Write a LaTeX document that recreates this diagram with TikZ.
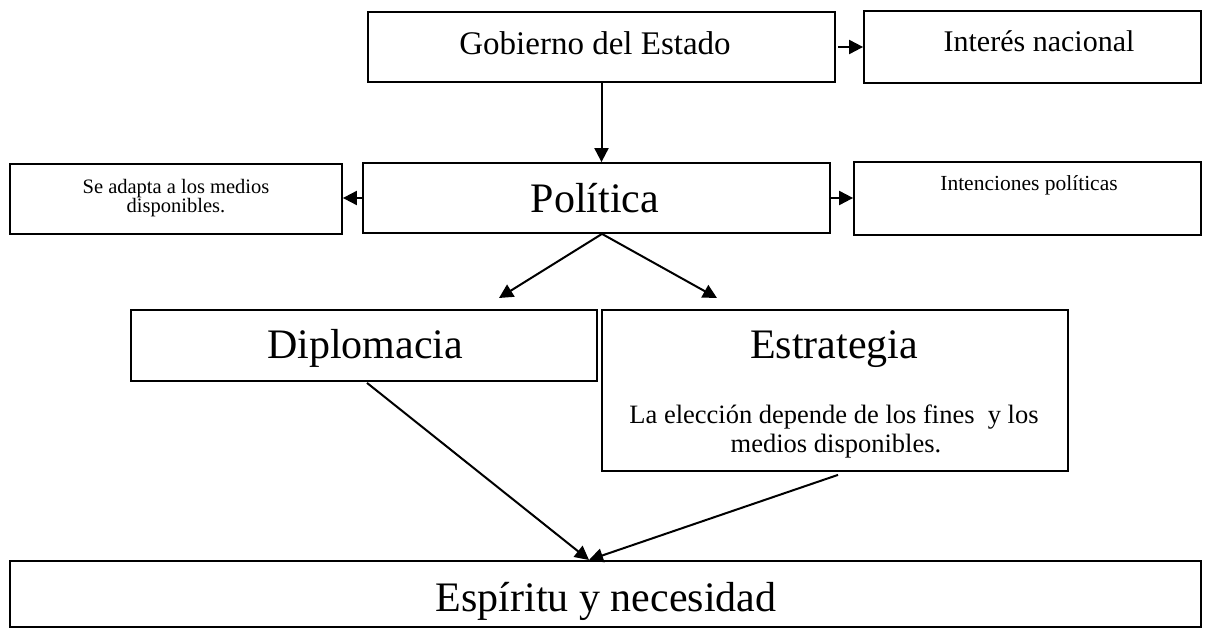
\documentclass[tikz,border=0pt]{standalone}
\usepackage{fontspec}
\setmainfont{Liberation Serif}
\usetikzlibrary{arrows.meta,calc}
\newcommand\fsz[1]{\fontsize{#1}{#1}\selectfont}
\begin{document}
\begin{tikzpicture}[x=1pt,y=-1pt,
  box/.style={draw,line width=1.8pt,inner sep=0pt},
  lbl/.style={inner sep=0pt,anchor=base},
  arr/.style={draw,line width=2pt,-{Triangle[length=14pt,width=14pt]}}]
\fill[white] (0,0) rectangle (1207,628);
\useasboundingbox (0,0) rectangle (1207,628);
% boxes
\node[box,minimum width=467pt,minimum height=70pt] (gob) at (601.5,47) {};
\node[box,minimum width=337pt,minimum height=72pt] (int) at (1032.5,47) {};
\node[box,minimum width=332pt,minimum height=70pt] (se) at (176,199) {};
\node[box,minimum width=467pt,minimum height=70pt] (pol) at (596.5,198) {};
\node[box,minimum width=347pt,minimum height=73pt] (intn) at (1027.5,198.5) {};
\node[box,minimum width=466pt,minimum height=71pt] (dip) at (364,345.5) {};
\node[box,minimum width=466pt,minimum height=161pt] (est) at (835,390.5) {};
\node[box,minimum width=1191pt,minimum height=66pt] (esp) at (605.5,594) {};
% texts
\node[lbl] (tgob) at (595,55) {\fsz{33}Gobierno del Estado};
\node[lbl] (tint) at (1039,52) {\fsz{30}Interés nacional};
\node[lbl] (tse1) at (176,193.5) {\fsz{20.5}Se adapta a los medios};
\node[lbl] (tse2) at (176,213) {\fsz{20.5}disponibles.};
\node[lbl] (tpol) at (595,213) {\fsz{42}Política};
\node[lbl] (tintn) at (1029,191) {\fsz{21.5}Intenciones políticas};
\node[lbl] (tdip) at (365,358) {\fsz{42}Diplomacia};
\node[lbl] (test) at (834,358) {\fsz{42}Estrategia};
\node[lbl] (test1) at (834,423) {\fsz{26.5}La elección depende de los fines\ \ y los};
\node[lbl] (test2) at (836,452) {\fsz{26.5}medios disponibles.};
\node[lbl] (tesp) at (606,611) {\fsz{42}Espíritu y necesidad};
% connector points
\coordinate (ps) at ($(pol.south)+(5.5,0)$);
\coordinate (dt) at (499,298);
\coordinate (et) at (717,298);
\coordinate (ds) at ($(dip.south)+(3,1)$);
\coordinate (es) at ($(est.south)+(3,3)$);
\coordinate (mid) at (589,560);
% connectors
\draw[arr] ([xshift=2pt]gob.east) -- (int.west);
\draw[arr] (gob.south) -- (gob.south |- pol.north);
\draw[arr] (pol.west) -- (pol.west -| se.east);
\draw[arr] (pol.east) -- (pol.east -| intn.west);
\draw[arr] (ps) -- (dt);
\draw[arr] (ps) -- (et);
\draw[arr] (ds) -- (mid);
\draw[arr] (es) -- (mid);
\end{tikzpicture}
\end{document}
